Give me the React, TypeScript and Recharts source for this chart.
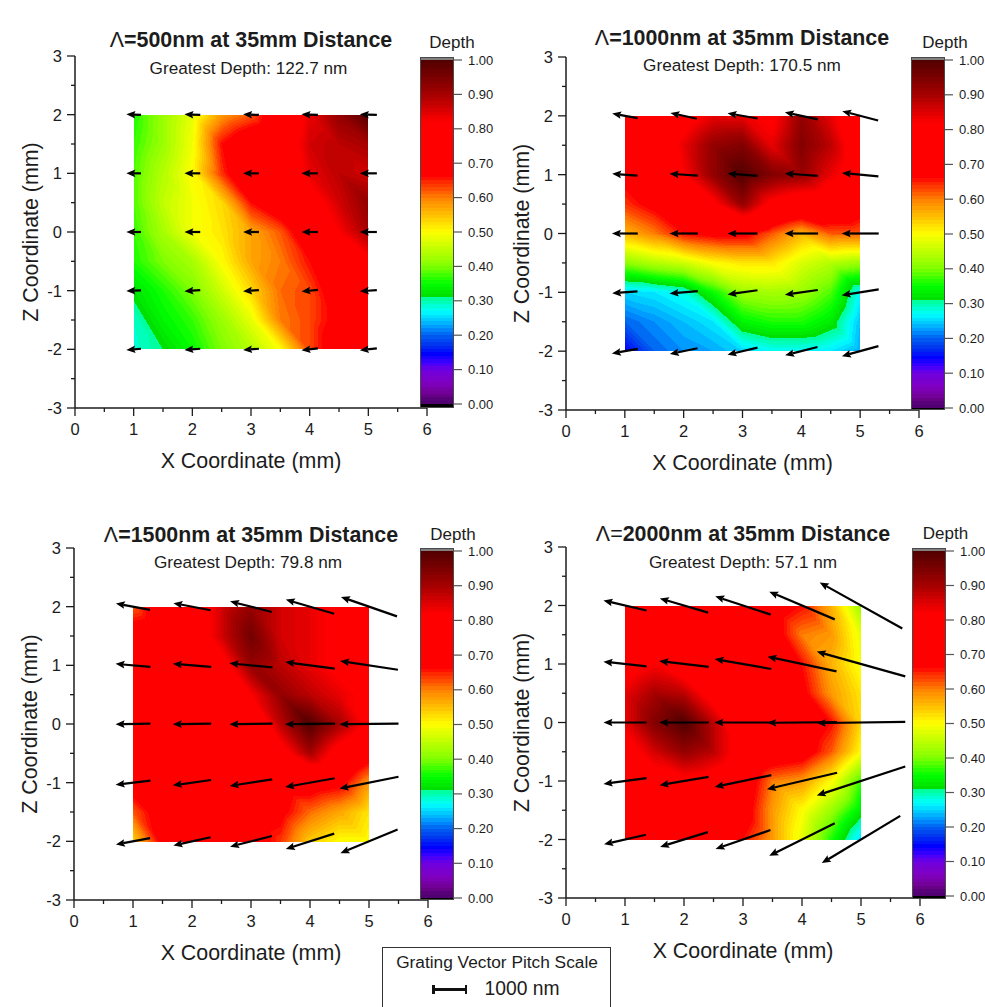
import React from 'react';
import { ScatterChart, Scatter, XAxis, YAxis, BarChart, Bar } from 'recharts';

const FONT = '"Liberation Sans", Arial, sans-serif';
const INK = '#1c1c1c';

// grid of the depth maps, rows run from z=2 down to z=-2
const depthX = [1, 1.5, 2, 2.5, 3, 3.5, 4, 4.5, 5];
const depthZ = [2, 1.5, 1, 0.5, 0, -0.5, -1, -1.5, -2];

const depth500 = [
  [0.36, 0.42, 0.48, 0.58, 0.62, 0.72, 0.84, 0.92, 1.0],
  [0.37, 0.42, 0.49, 0.66, 0.72, 0.75, 0.86, 0.88, 0.9],
  [0.38, 0.44, 0.5, 0.64, 0.74, 0.76, 0.84, 0.88, 0.86],
  [0.38, 0.45, 0.49, 0.53, 0.66, 0.72, 0.78, 0.86, 0.92],
  [0.37, 0.43, 0.49, 0.52, 0.57, 0.62, 0.72, 0.82, 0.9],
  [0.36, 0.4, 0.43, 0.5, 0.57, 0.6, 0.66, 0.74, 0.8],
  [0.32, 0.36, 0.4, 0.46, 0.53, 0.61, 0.63, 0.7, 0.76],
  [0.29, 0.34, 0.37, 0.42, 0.48, 0.6, 0.63, 0.68, 0.74],
  [0.285, 0.31, 0.35, 0.4, 0.44, 0.5, 0.63, 0.7, 0.74],
];
const depth1000 = [
  [0.7, 0.72, 0.78, 0.84, 0.84, 0.8, 0.92, 0.84, 0.74],
  [0.7, 0.72, 0.84, 0.92, 0.94, 0.84, 0.94, 0.88, 0.76],
  [0.68, 0.72, 0.82, 0.92, 1.0, 0.94, 0.92, 0.84, 0.76],
  [0.64, 0.68, 0.74, 0.8, 0.92, 0.8, 0.76, 0.74, 0.7],
  [0.56, 0.6, 0.66, 0.68, 0.68, 0.62, 0.56, 0.62, 0.62],
  [0.41, 0.44, 0.46, 0.5, 0.52, 0.52, 0.47, 0.44, 0.42],
  [0.25, 0.26, 0.28, 0.35, 0.42, 0.43, 0.42, 0.38, 0.27],
  [0.2, 0.22, 0.24, 0.26, 0.34, 0.36, 0.36, 0.33, 0.24],
  [0.14, 0.2, 0.22, 0.23, 0.25, 0.27, 0.27, 0.26, 0.23],
];
const depth1500 = [
  [0.62, 0.7, 0.76, 0.86, 0.92, 0.86, 0.84, 0.8, 0.76],
  [0.7, 0.72, 0.76, 0.86, 0.96, 0.86, 0.84, 0.8, 0.78],
  [0.7, 0.72, 0.72, 0.78, 0.92, 0.88, 0.84, 0.8, 0.82],
  [0.7, 0.71, 0.72, 0.72, 0.82, 0.92, 0.88, 0.84, 0.8],
  [0.7, 0.72, 0.74, 0.72, 0.72, 0.88, 1.0, 0.9, 0.8],
  [0.7, 0.7, 0.72, 0.74, 0.72, 0.78, 0.9, 0.78, 0.7],
  [0.7, 0.7, 0.7, 0.72, 0.74, 0.7, 0.7, 0.68, 0.58],
  [0.62, 0.7, 0.7, 0.7, 0.7, 0.68, 0.61, 0.57, 0.52],
  [0.53, 0.68, 0.7, 0.7, 0.7, 0.64, 0.54, 0.5, 0.5],
];
const depth2000 = [
  [0.7, 0.7, 0.7, 0.7, 0.7, 0.7, 0.66, 0.56, 0.42],
  [0.72, 0.72, 0.72, 0.72, 0.72, 0.7, 0.6, 0.58, 0.48],
  [0.78, 0.82, 0.76, 0.72, 0.78, 0.72, 0.66, 0.56, 0.49],
  [0.84, 0.9, 0.88, 0.78, 0.74, 0.74, 0.68, 0.58, 0.52],
  [0.84, 0.94, 1.0, 0.88, 0.74, 0.72, 0.72, 0.66, 0.53],
  [0.78, 0.86, 0.92, 0.88, 0.78, 0.72, 0.7, 0.62, 0.5],
  [0.72, 0.78, 0.8, 0.78, 0.72, 0.6, 0.58, 0.5, 0.37],
  [0.72, 0.74, 0.76, 0.72, 0.7, 0.58, 0.5, 0.42, 0.33],
  [0.7, 0.72, 0.7, 0.7, 0.66, 0.58, 0.48, 0.36, 0.25],
];

// arrows: tip minus tail in mm, centred on the measuring point
const arrowX = [1, 2, 3, 4, 5];
const arrowZ = [2, 1, 0, -1, -2];

const arrowDx500 = [
  [-0.25, -0.27, -0.27, -0.28, -0.29],
  [-0.25, -0.27, -0.27, -0.28, -0.29],
  [-0.25, -0.27, -0.27, -0.28, -0.29],
  [-0.25, -0.27, -0.27, -0.28, -0.29],
  [-0.25, -0.27, -0.27, -0.28, -0.29],
];
const arrowDz500 = [
  [0.01, 0.01, 0.01, 0.01, 0.01],
  [0, 0, 0, 0, 0],
  [0, 0, 0, 0, 0],
  [-0.01, -0.02, -0.02, -0.03, -0.02],
  [-0.02, -0.02, -0.02, -0.03, -0.03],
];
const arrowDx1000 = [
  [-0.43, -0.45, -0.51, -0.56, -0.61],
  [-0.43, -0.48, -0.51, -0.56, -0.62],
  [-0.44, -0.48, -0.51, -0.57, -0.63],
  [-0.43, -0.48, -0.51, -0.56, -0.63],
  [-0.44, -0.47, -0.51, -0.55, -0.62],
];
const arrowDz1000 = [
  [0.08, 0.1, 0.09, 0.12, 0.16],
  [0.03, 0.03, 0.04, 0.04, 0.06],
  [0, 0, 0, 0, 0],
  [-0.03, -0.04, -0.07, -0.08, -0.1],
  [-0.08, -0.1, -0.12, -0.14, -0.17],
];
const arrowDx1500 = [
  [-0.58, -0.63, -0.71, -0.82, -0.95],
  [-0.59, -0.65, -0.73, -0.84, -0.98],
  [-0.59, -0.65, -0.73, -0.85, -1.0],
  [-0.59, -0.65, -0.72, -0.84, -1.0],
  [-0.58, -0.63, -0.71, -0.82, -0.97],
];
const arrowDz1500 = [
  [0.11, 0.12, 0.18, 0.24, 0.33],
  [0.05, 0.05, 0.07, 0.11, 0.15],
  [-0.01, -0.01, -0.01, -0.01, -0.01],
  [-0.07, -0.09, -0.11, -0.15, -0.2],
  [-0.11, -0.14, -0.18, -0.26, -0.4],
];
const arrowDx2000 = [
  [-0.73, -0.82, -0.94, -1.11, -1.4],
  [-0.73, -0.84, -0.96, -1.17, -1.5],
  [-0.73, -0.84, -0.97, -1.18, -1.5],
  [-0.73, -0.83, -0.96, -1.19, -1.5],
  [-0.71, -0.81, -0.93, -1.11, -1.33],
];
const arrowDz2000 = [
  [0.17, 0.24, 0.31, 0.47, 0.78],
  [0.08, 0.1, 0.17, 0.25, 0.42],
  [0, 0, 0, -0.01, -0.02],
  [-0.1, -0.14, -0.2, -0.28, -0.49],
  [-0.16, -0.25, -0.32, -0.55, -0.8],
];

const axisTicks = [0, 0.5, 1, 1.5, 2, 2.5, 3, 3.5, 4, 4.5, 5, 5.5, 6];
const zAxisTicks = [-3, -2.5, -2, -1.5, -1, -0.5, 0, 0.5, 1, 1.5, 2, 2.5, 3];
const depthTicks = [0, 0.1, 0.2, 0.3, 0.4, 0.5, 0.6, 0.7, 0.8, 0.9, 1];

// colour map of the depth scale, the jumps at 0.31 and 0.64 are in the original too
const paletteStops = [
  0, 0.01, 0.03, 0.06, 0.1, 0.12, 0.145, 0.17, 0.2, 0.22, 0.24, 0.27, 0.305, 0.315, 0.35, 0.4, 0.45, 0.5, 0.55, 0.6,
  0.62, 0.65, 0.66, 0.82, 0.9, 1,
];
const paletteRgb = [
  [80, 0, 112], [80, 0, 112], [112, 0, 144], [128, 0, 192], [112, 0, 224], [64, 0, 255], [0, 0, 255], [0, 48, 240],
  [0, 96, 240], [0, 144, 255], [0, 192, 255], [0, 255, 255], [0, 255, 160], [0, 224, 0], [0, 255, 0], [128, 255, 0],
  [192, 255, 0], [255, 255, 0], [255, 192, 0], [255, 127, 0], [255, 85, 0], [255, 32, 0], [255, 0, 0], [255, 0, 0],
  [165, 0, 0], [80, 0, 0],
];
const BAND = 0.01;
const BAND_COUNT = 100;

function paletteAt(v: number) {
  let i = 0;
  while (i < paletteStops.length - 2 && v > paletteStops[i + 1]) i++;
  const t = (v - paletteStops[i]) / (paletteStops[i + 1] - paletteStops[i]);
  const c = paletteRgb[i].map((a, k) => Math.round(a + (paletteRgb[i + 1][k] - a) * t));
  return `rgb(${c[0]},${c[1]},${c[2]})`;
}
const bandColors = Array.from({ length: BAND_COUNT }, (_, i) => paletteAt((i + 0.5) * BAND));

type Vertex = { x: number; y: number; v: number };

function clipAbove(poly: Vertex[], level: number) {
  const out: Vertex[] = [];
  poly.forEach((a, i) => {
    const b = poly[(i + 1) % poly.length];
    if (a.v >= level) out.push(a);
    if (a.v >= level !== b.v >= level) {
      const t = (level - a.v) / (b.v - a.v);
      out.push({ x: a.x + (b.x - a.x) * t, y: a.y + (b.y - a.y) * t, v: level });
    }
  });
  return out;
}

function trianglePolys(tri: Vertex[], key: string) {
  const vs = tri.map((p) => p.v);
  const lo = Math.min(Math.floor(Math.min(...vs) / BAND), BAND_COUNT - 1);
  const hi = Math.min(Math.floor(Math.max(...vs) / BAND), BAND_COUNT - 1);
  const polys = [];
  for (let b = lo; b <= hi; b++) {
    const poly = b === lo ? tri : clipAbove(tri, b * BAND);
    if (poly.length < 3) continue;
    polys.push(
      <polygon
        key={`${key}-${b}`}
        points={poly.map((p) => `${p.x},${p.y}`).join(' ')}
        fill={bandColors[b]}
        shapeRendering="crispEdges"
      />,
    );
  }
  return polys;
}

// one grid cell, (cx, cy) is its top left corner
function DepthCell({ cx, cy, payload, unit }: any) {
  const { tl, tr, bl, br, step } = payload;
  const w = step * unit;
  const a = { x: cx, y: cy, v: tl };
  const b = { x: cx + w, y: cy, v: tr };
  const c = { x: cx, y: cy + w, v: bl };
  const d = { x: cx + w, y: cy + w, v: br };
  return (
    <g>
      {trianglePolys([a, b, d], 'u')}
      {trianglePolys([a, d, c], 'l')}
    </g>
  );
}

function VectorArrow({ cx, cy, payload, unit }: any) {
  const tipX = cx + (payload.dx / 2) * unit;
  const tipY = cy - (payload.dz / 2) * unit;
  const tailX = cx - (payload.dx / 2) * unit;
  const tailY = cy + (payload.dz / 2) * unit;
  const len = Math.hypot(tipX - tailX, tipY - tailY);
  const ux = (tailX - tipX) / len;
  const uy = (tailY - tipY) / len;
  const headLen = 9;
  const half = 3.8;
  const bx = tipX + ux * headLen;
  const by = tipY + uy * headLen;
  const nx = tipX + ux * (headLen - 1.5);
  const ny = tipY + uy * (headLen - 1.5);
  return (
    <g>
      <line x1={tailX} y1={tailY} x2={nx} y2={ny} stroke="#000" strokeWidth={2.2} />
      <polygon
        points={`${tipX},${tipY} ${bx - uy * half},${by + ux * half} ${nx},${ny} ${bx + uy * half},${by - ux * half}`}
        fill="#000"
      />
    </g>
  );
}

function XTick({ x, y, payload }: any) {
  const major = Number.isInteger(payload.value);
  return (
    <g>
      <line x1={x} y1={y} x2={x} y2={y + (major ? 8 : 4)} stroke={INK} strokeWidth={1.3} />
      {major && (
        <text x={x} y={y + 27} textAnchor="middle" fontSize={16.5} fontFamily={FONT} fill={INK}>
          {payload.value}
        </text>
      )}
    </g>
  );
}

function ZTick({ x, y, payload }: any) {
  const major = Number.isInteger(payload.value);
  return (
    <g>
      <line x1={x} y1={y} x2={x - (major ? 8 : 4)} y2={y} stroke={INK} strokeWidth={1.3} />
      {major && (
        <text x={x - 13} y={y + 6} textAnchor="end" fontSize={16.5} fontFamily={FONT} fill={INK}>
          {payload.value}
        </text>
      )}
    </g>
  );
}

function cellsFrom(depth: number[][]) {
  const cells = [];
  for (let r = 0; r < depthZ.length - 1; r++) {
    for (let c = 0; c < depthX.length - 1; c++) {
      cells.push({
        x: depthX[c],
        z: depthZ[r],
        step: depthX[c + 1] - depthX[c],
        tl: depth[r][c],
        tr: depth[r][c + 1],
        bl: depth[r + 1][c],
        br: depth[r + 1][c + 1],
      });
    }
  }
  return cells;
}

function arrowsFrom(dx: number[][], dz: number[][]) {
  return arrowZ.flatMap((z, r) => arrowX.map((x, c) => ({ x, z, dx: dx[r][c], dz: dz[r][c] })));
}

const CHART_LEFT = 60;
const CHART_TOP = 10;
const AXIS_BOTTOM = 70;

function DepthMap({ plot, depth, dx, dz }: any) {
  const w = plot.right - plot.left;
  const h = plot.bottom - plot.top;
  const unit = w / 6;
  return (
    <div style={{ position: 'absolute', left: plot.left - CHART_LEFT, top: plot.top - CHART_TOP }}>
      <ScatterChart
        width={CHART_LEFT + w + 10}
        height={CHART_TOP + h + AXIS_BOTTOM}
        margin={{ left: 0, top: CHART_TOP, right: 10, bottom: 0 }}
      >
        <XAxis
          type="number"
          dataKey="x"
          domain={[0, 6]}
          ticks={axisTicks}
          interval={0}
          height={AXIS_BOTTOM}
          tickSize={0}
          tickMargin={0}
          tickLine={false}
          tick={<XTick />}
          axisLine={{ stroke: INK, strokeWidth: 1.5 }}
          label={{
            value: 'X Coordinate (mm)',
            position: 'insideBottom',
            offset: 10,
            style: { fontSize: 21.4, fontFamily: FONT, fill: INK },
          }}
        />
        <YAxis
          type="number"
          dataKey="z"
          domain={[-3, 3]}
          ticks={zAxisTicks}
          interval={0}
          width={CHART_LEFT}
          tickSize={0}
          tickMargin={0}
          tickLine={false}
          tick={<ZTick />}
          axisLine={{ stroke: INK, strokeWidth: 1.5 }}
          label={{
            value: 'Z Coordinate (mm)',
            angle: -90,
            position: 'insideLeft',
            offset: 15,
            style: { fontSize: 21.4, fontFamily: FONT, fill: INK, textAnchor: 'middle' },
          }}
        />
        <Scatter
          data={cellsFrom(depth)}
          isAnimationActive={false}
          shape={(props: any) => <DepthCell {...props} unit={unit} />}
        />
        <Scatter
          data={arrowsFrom(dx, dz)}
          isAnimationActive={false}
          shape={(props: any) => <VectorArrow {...props} unit={unit} />}
        />
      </ScatterChart>
    </div>
  );
}

const bandRow: Record<string, number | string> = { name: 'depth' };
bandColors.forEach((_, i) => {
  bandRow[`band${i}`] = BAND;
});

function DepthTick({ x, y, payload }: any) {
  return (
    <g>
      <line x1={x} y1={y} x2={x + 8} y2={y} stroke="#555" strokeWidth={1.2} />
      <text x={x + 14} y={y + 4.5} fontSize={13} fontFamily={FONT} fill={INK}>
        {Number(payload.value).toFixed(2)}
      </text>
    </g>
  );
}

const BAR_PAD = 10;

function ColorBar({ bar }: any) {
  const h = bar.bottom - bar.top;
  const perUnit = bar.zero - bar.one;
  const overTop = (bar.one - bar.top) / perUnit;
  const underBottom = (bar.bottom - bar.zero) / perUnit;
  const row = { ...bandRow, under: -underBottom, over: overTop };
  const w = bar.right - bar.left;
  return (
    <div style={{ position: 'absolute', left: bar.left, top: bar.top - BAR_PAD }}>
      <BarChart
        width={w + 50}
        height={h + BAR_PAD * 2}
        data={[row]}
        margin={{ left: 0, top: BAR_PAD, right: 0, bottom: BAR_PAD }}
        barCategoryGap={0}
        stackOffset="sign"
      >
        <XAxis dataKey="name" hide />
        <YAxis
          orientation="right"
          type="number"
          domain={[-underBottom, 1 + overTop]}
          ticks={depthTicks}
          interval={0}
          width={50}
          allowDataOverflow
          axisLine={false}
          tickLine={false}
          tickSize={0}
          tickMargin={0}
          tick={<DepthTick />}
        />
        <Bar dataKey="under" stackId="depth" fill="#000" isAnimationActive={false} />
        {bandColors.map((color, i) => (
          <Bar key={i} dataKey={`band${i}`} stackId="depth" fill={color} shapeRendering="crispEdges" isAnimationActive={false} />
        ))}
        <Bar dataKey="over" stackId="depth" fill="#808080" isAnimationActive={false} />
      </BarChart>
      <div
        style={{
          position: 'absolute',
          left: 0,
          top: BAR_PAD,
          width: w,
          height: h,
          boxSizing: 'border-box',
          border: '1.5px solid #4a4a4a',
          pointerEvents: 'none',
        }}
      />
    </div>
  );
}

function Caption({ x, y, size, bold, children }: any) {
  return (
    <div
      style={{
        position: 'absolute',
        left: x,
        top: y,
        transform: 'translate(-50%, -50%)',
        whiteSpace: 'nowrap',
        fontFamily: FONT,
        fontSize: size,
        fontWeight: bold ? 700 : 400,
        color: INK,
      }}
    >
      {children}
    </div>
  );
}

const panels = [
  {
    lambda: '500nm',
    greatest: '122.7 nm',
    plot: { left: 75, right: 427, top: 56, bottom: 408 },
    bar: { left: 420, right: 454, top: 57, bottom: 408, one: 60, zero: 404 },
    depth: depth500,
    dx: arrowDx500,
    dz: arrowDz500,
    title: { x: 251, y: 40 },
    sub: { x: 248.5, y: 68 },
    depthLabel: { x: 452, y: 43 },
    thinEquals: false,
  },
  {
    lambda: '1000nm',
    greatest: '170.5 nm',
    plot: { left: 566, right: 919, top: 57, bottom: 410 },
    bar: { left: 911, right: 945, top: 57, bottom: 410, one: 60, zero: 408 },
    depth: depth1000,
    dx: arrowDx1000,
    dz: arrowDz1000,
    title: { x: 742, y: 38 },
    sub: { x: 742, y: 65 },
    depthLabel: { x: 945, y: 43 },
    thinEquals: false,
  },
  {
    lambda: '1500nm',
    greatest: '79.8 nm',
    plot: { left: 74, right: 428, top: 548, bottom: 900 },
    bar: { left: 420, right: 454, top: 548, bottom: 900, one: 551, zero: 898 },
    depth: depth1500,
    dx: arrowDx1500,
    dz: arrowDz1500,
    title: { x: 251, y: 535 },
    sub: { x: 248, y: 562 },
    depthLabel: { x: 453, y: 535 },
    thinEquals: false,
  },
  {
    lambda: '2000nm',
    greatest: '57.1 nm',
    plot: { left: 566, right: 920, top: 547, bottom: 898 },
    bar: { left: 912, right: 946, top: 548, bottom: 899, one: 551, zero: 896 },
    depth: depth2000,
    dx: arrowDx2000,
    dz: arrowDz2000,
    title: { x: 743, y: 534 },
    sub: { x: 743, y: 562 },
    depthLabel: { x: 945.5, y: 534 },
    thinEquals: true,
  },
];

export default function App() {
  return (
    <div
      style={{
        position: 'absolute',
        left: 0,
        top: 0,
        width: 985,
        height: 1007,
        overflow: 'hidden',
        background: '#fff',
      }}
    >
      {panels.map((p) => (
        <React.Fragment key={p.lambda}>
          <DepthMap plot={p.plot} depth={p.depth} dx={p.dx} dz={p.dz} />
          <ColorBar bar={p.bar} />
          <Caption x={p.title.x} y={p.title.y} size={21.4} bold>
            <span style={{ fontWeight: 400 }}>{p.thinEquals ? 'Λ=' : 'Λ'}</span>
            {p.thinEquals ? '' : '='}
            {p.lambda} at 35mm Distance
          </Caption>
          <Caption x={p.sub.x} y={p.sub.y} size={17.2}>
            Greatest Depth: {p.greatest}
          </Caption>
          <Caption x={p.depthLabel.x} y={p.depthLabel.y} size={17}>
            Depth
          </Caption>
        </React.Fragment>
      ))}
      <div
        style={{
          position: 'absolute',
          left: 382,
          top: 947,
          width: 229,
          height: 70,
          boxSizing: 'border-box',
          border: '1.5px solid #333',
        }}
      />
      <Caption x={497} y={962} size={17.3}>
        Grating Vector Pitch Scale
      </Caption>
      <div style={{ position: 'absolute', left: 432, top: 988, width: 34, height: 2.5, background: '#111' }} />
      <div style={{ position: 'absolute', left: 432, top: 985, width: 2.5, height: 9, background: '#111' }} />
      <div style={{ position: 'absolute', left: 464.5, top: 985, width: 2.5, height: 9, background: '#111' }} />
      <Caption x={522} y={989} size={19.3}>
        1000 nm
      </Caption>
    </div>
  );
}
